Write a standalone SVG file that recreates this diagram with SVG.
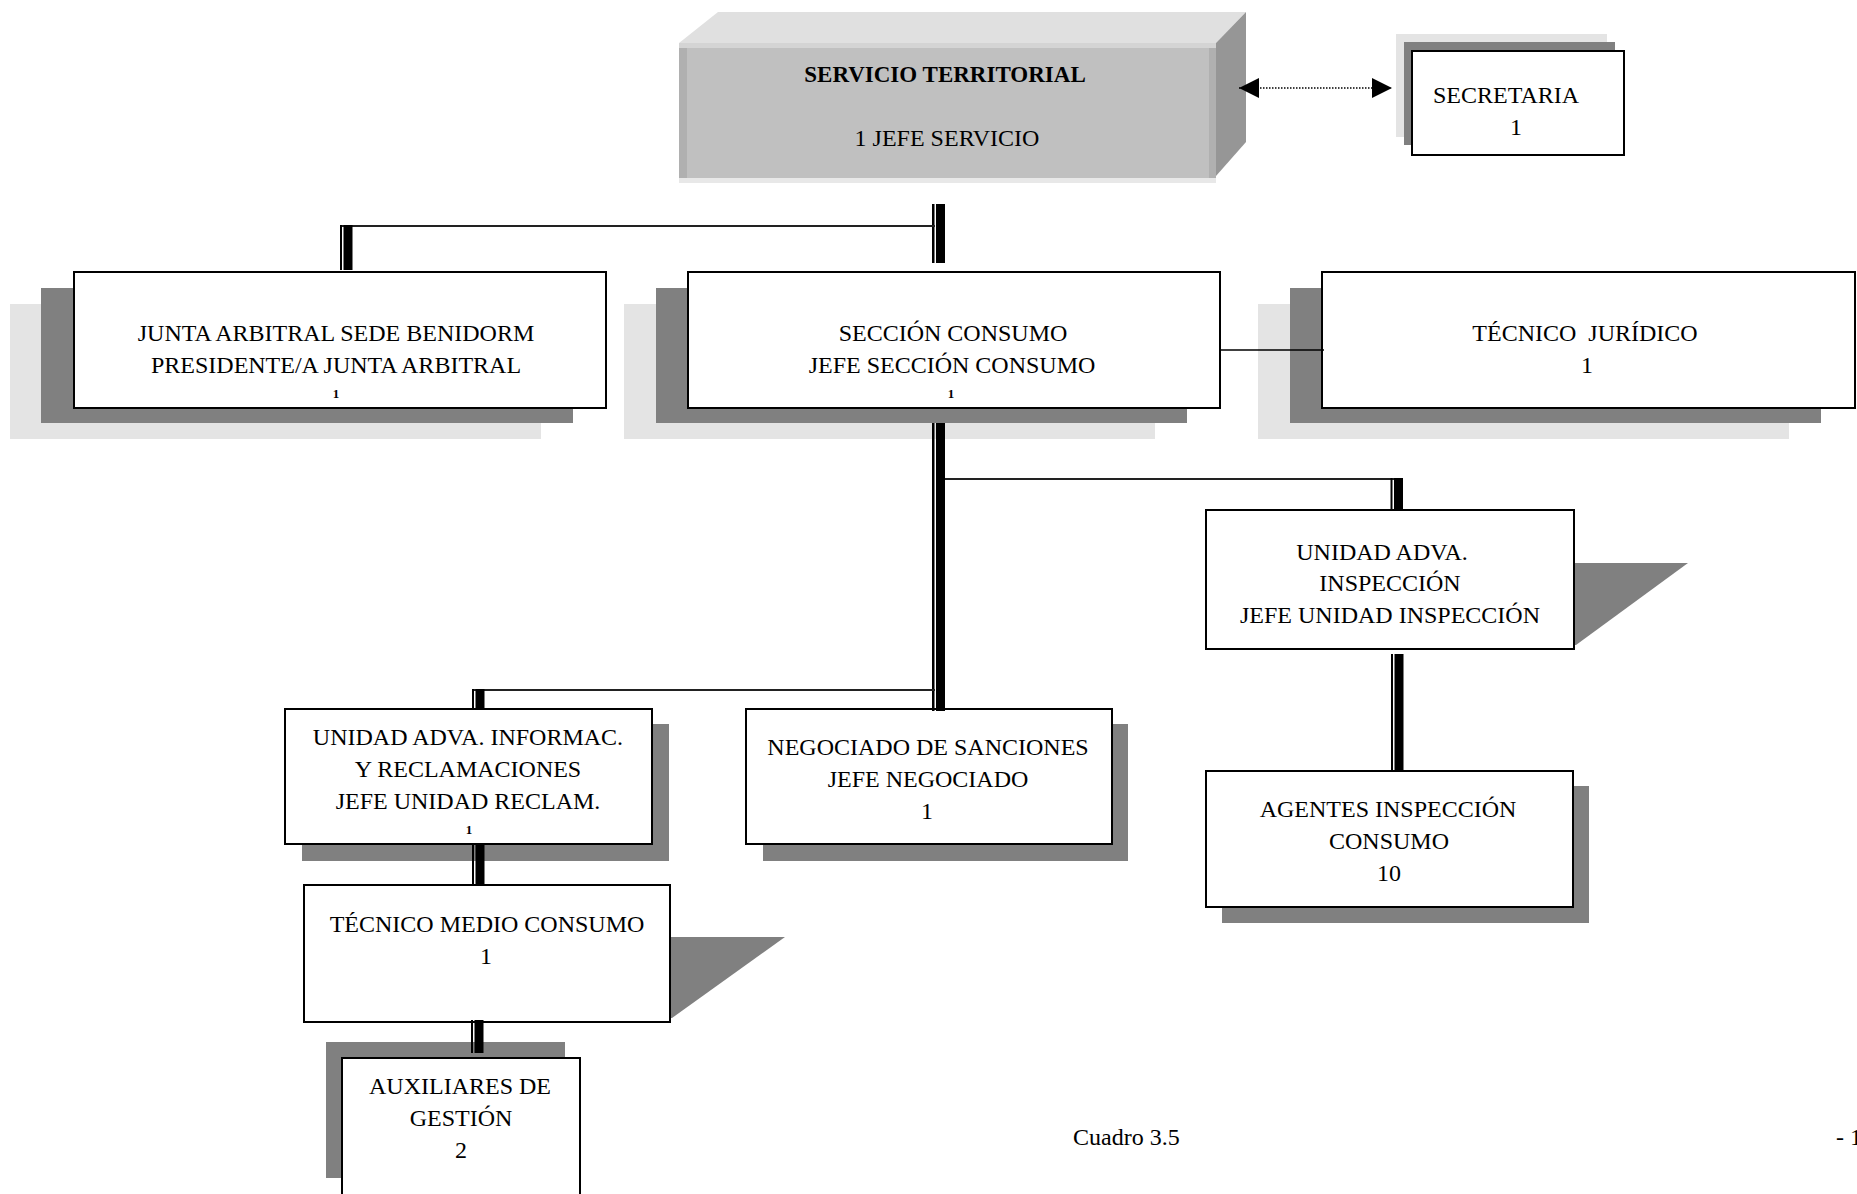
<svg xmlns="http://www.w3.org/2000/svg" width="1857" height="1194" viewBox="0 0 1857 1194">
<style>
.t{font-family:"Liberation Serif","Times New Roman",serif;font-size:24px;fill:#000;text-anchor:middle}
.b{font-weight:bold;font-size:23px}
.s{font-size:13px;font-weight:bold}
.box{fill:#fff;stroke:#000;stroke-width:2}
.sh{fill:#808080}
.lt{fill:#e4e4e4}
.bar{fill:#000}
.hl{stroke:#222;stroke-width:2;fill:none}
</style>
<defs>
<marker id="ah" viewBox="0 0 10 10" refX="10" refY="5" markerUnits="userSpaceOnUse" markerWidth="20" markerHeight="20" orient="auto-start-reverse">
<path d="M0,0 L10,5 L0,10 z" fill="#000"/>
</marker>
</defs>
<rect width="1857" height="1194" fill="#fff"/>

<g id="servicio">
<polygon points="679,43 718,12 1246,12 1216,43" fill="#e0e0e0"/>
<polygon points="1216,43 1246,12 1246,142 1216,176" fill="#969696"/>
<rect x="679" y="43" width="537" height="140" fill="#c0c0c0"/>
<rect x="679" y="43" width="537" height="5" fill="#d4d4d4"/>
<rect x="679" y="178" width="537" height="5" fill="#e8e8e8"/>
<rect x="679" y="48" width="8" height="130" fill="#b0b0b0"/>
<rect x="1209" y="48" width="7" height="130" fill="#b0b0b0"/>
<text class="t b" x="945" y="82">SERVICIO TERRITORIAL</text>
<text class="t" x="947" y="146">1 JEFE SERVICIO</text>
</g>

<g id="secretaria">
<rect class="lt" x="1396" y="34" width="211" height="103"/>
<rect class="sh" x="1404" y="42" width="211" height="103"/>
<rect class="box" x="1412" y="51" width="212" height="104"/>
<text class="t" x="1506" y="103">SECRETARIA</text>
<text class="t" x="1516" y="135">1</text>
</g>

<g id="junta">
<rect class="lt" x="10" y="304" width="531" height="135"/>
<rect class="sh" x="41" y="288" width="532" height="135"/>
<rect class="box" x="74" y="272" width="532" height="136"/>
<text class="t" x="336" y="341">JUNTA ARBITRAL SEDE BENIDORM</text>
<text class="t" x="336" y="373">PRESIDENTE/A JUNTA ARBITRAL</text>
<text class="t s" x="336" y="398">1</text>
</g>

<g id="seccion">
<rect class="lt" x="624" y="304" width="531" height="135"/>
<rect class="sh" x="656" y="288" width="531" height="135"/>
<rect class="box" x="688" y="272" width="532" height="136"/>
<text class="t" x="953" y="341">SECCIÓN CONSUMO</text>
<text class="t" x="952" y="373">JEFE SECCIÓN CONSUMO</text>
<text class="t s" x="951" y="398">1</text>
</g>

<g id="juridico">
<rect class="lt" x="1258" y="304" width="531" height="135"/>
<rect class="sh" x="1290" y="288" width="531" height="135"/>
<rect class="box" x="1322" y="272" width="533" height="136"/>
<text class="t" x="1585" y="341" xml:space="preserve">TÉCNICO  JURÍDICO</text>
<text class="t" x="1587" y="373">1</text>
</g>

<g id="inspeccion">
<polygon class="sh" points="1574,563 1688,563 1576,645 1574,645"/>
<rect class="box" x="1206" y="510" width="368" height="139"/>
<text class="t" x="1382" y="560">UNIDAD ADVA.</text>
<text class="t" x="1390" y="591">INSPECCIÓN</text>
<text class="t" x="1390" y="623">JEFE UNIDAD INSPECCIÓN</text>
</g>

<g id="agentes">
<rect class="sh" x="1222" y="786" width="367" height="137"/>
<rect class="box" x="1206" y="771" width="367" height="136"/>
<text class="t" x="1388" y="817">AGENTES INSPECCIÓN</text>
<text class="t" x="1389" y="849">CONSUMO</text>
<text class="t" x="1389" y="881">10</text>
</g>

<g id="informac">
<rect class="sh" x="302" y="724" width="367" height="137"/>
<rect class="box" x="285" y="709" width="367" height="135"/>
<text class="t" x="468" y="745">UNIDAD ADVA. INFORMAC.</text>
<text class="t" x="468" y="777">Y RECLAMACIONES</text>
<text class="t" x="468" y="809">JEFE UNIDAD RECLAM.</text>
<text class="t s" x="469" y="834">1</text>
</g>

<g id="negociado">
<rect class="sh" x="763" y="724" width="365" height="137"/>
<rect class="box" x="746" y="709" width="366" height="135"/>
<text class="t" x="928" y="755">NEGOCIADO DE SANCIONES</text>
<text class="t" x="928" y="787">JEFE NEGOCIADO</text>
<text class="t" x="927" y="819">1</text>
</g>

<g id="tecnico-medio">
<polygon class="sh" points="670,937 785,937 672,1018 670,1018"/>
<rect class="box" x="304" y="885" width="366" height="137"/>
<text class="t" x="487" y="932">TÉCNICO MEDIO CONSUMO</text>
<text class="t" x="486" y="964">1</text>
</g>

<g id="auxiliares">
<rect class="sh" x="326" y="1042" width="239" height="136"/>
<rect class="box" x="342" y="1058" width="238" height="150"/>
<text class="t" x="460" y="1094">AUXILIARES DE</text>
<text class="t" x="461" y="1126">GESTIÓN</text>
<text class="t" x="461" y="1158">2</text>
</g>

<g id="connectors">
<line x1="1239" y1="88" x2="1392" y2="88" stroke="#000" stroke-width="1.5" stroke-dasharray="1.5 1.5" marker-start="url(#ah)" marker-end="url(#ah)"/>
<rect class="bar" x="932" y="204" width="2.5" height="59"/><rect class="bar" x="936" y="204" width="9" height="59"/>
<line class="hl" x1="341" y1="226" x2="935" y2="226"/>
<rect class="bar" x="340" y="225" width="2" height="45"/><rect class="bar" x="343.5" y="225" width="9" height="45"/>
<line x1="1220" y1="350" x2="1324" y2="350" stroke="#000" stroke-width="1.5"/>
<rect class="bar" x="932" y="423" width="2.5" height="288"/><rect class="bar" x="936" y="423" width="9" height="288"/>
<line class="hl" x1="945" y1="479" x2="1395" y2="479"/>
<rect class="bar" x="1390.5" y="478" width="2" height="32"/><rect class="bar" x="1394" y="478" width="9" height="32"/>
<rect class="bar" x="1391" y="654" width="2" height="116"/><rect class="bar" x="1394.5" y="654" width="9" height="116"/>
<line class="hl" x1="474" y1="690" x2="935" y2="690"/>
<rect class="bar" x="472" y="689" width="2" height="19"/><rect class="bar" x="475.5" y="689" width="9" height="19"/>
<rect class="bar" x="472" y="844" width="2" height="41"/><rect class="bar" x="475.5" y="844" width="9" height="41"/>
<rect class="bar" x="471" y="1020" width="2" height="33"/><rect class="bar" x="474.5" y="1020" width="9" height="33"/>
</g>

<g id="footer">
<text class="t" x="1073" y="1145" style="text-anchor:start">Cuadro 3.5</text>
<text class="t" x="1836" y="1145" style="text-anchor:start">- 1</text>
</g>
</svg>
